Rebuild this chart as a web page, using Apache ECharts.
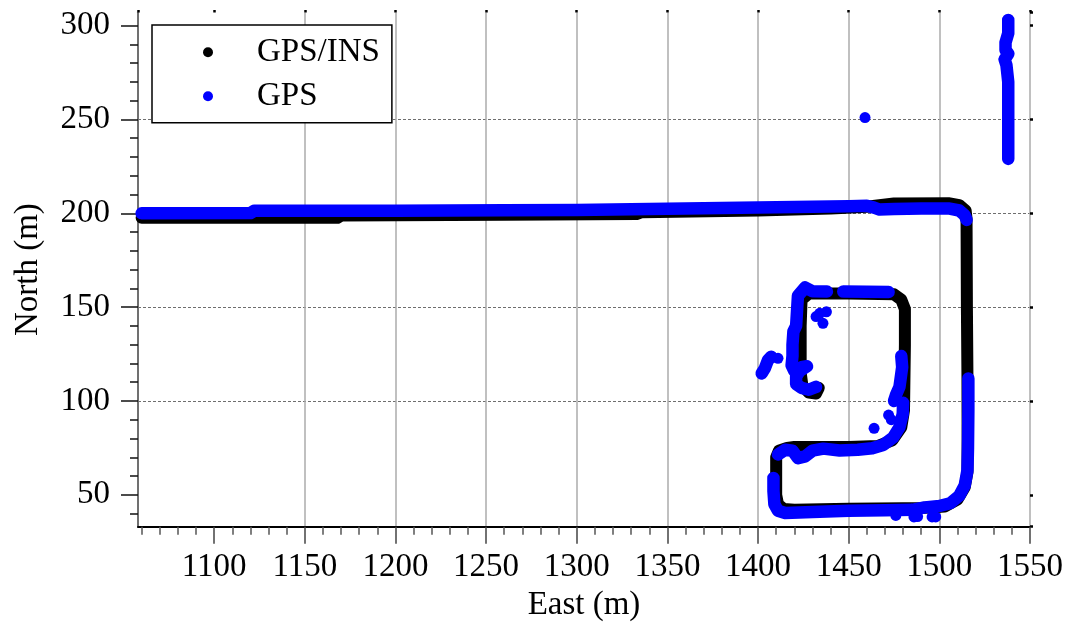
<!DOCTYPE html>
<html>
<head>
<meta charset="utf-8">
<script src="https://cdn.jsdelivr.net/npm/echarts@6/dist/echarts.min.js"></script>
<style>
  html, body { margin: 0; padding: 0; background: #fff; }
  #chart { width: 1072px; height: 629px; }
</style>
</head>
<body>
<div id="chart"></div>
<script>
// Series names
const insName = 'GPS/INS';
const gpsName = 'GPS';

// Tick labels (m)
const eastTicks = [1100, 1150, 1200, 1250, 1300, 1350, 1400, 1450, 1500, 1550];
const northTicks = [50, 100, 150, 200, 250, 300];

// Integrated GPS/INS trajectory, [east, north] in metres
const gpsInsTrack = [
  [1060, 197.6], [1120, 197.6], [1168, 197.6], [1170, 198.8], [1260, 199.2],
  [1333, 199.6], [1336, 200.6], [1400, 201.5], [1440, 202.5], [1460, 203.5],
  [1475, 205.2], [1505, 205.4], [1511, 204.4], [1514.5, 201.5], [1515, 197],
  [1515.2, 150], [1515.5, 113], [1515.6, 80], [1515.5, 62], [1514, 54],
  [1510, 47.5], [1503, 43.8], [1490, 43], [1480, 42.8], [1450, 42.5],
  [1420, 42], [1414, 42.5], [1411, 45], [1410, 50], [1410, 70],
  [1411.5, 73.5], [1416, 75], [1420, 75.5], [1450, 75.5], [1466, 76],
  [1474, 79], [1479, 86], [1480.5, 95], [1481, 130], [1481, 149],
  [1479, 154], [1475, 156.8], [1450, 157.2], [1428, 157.2], [1424, 154],
  [1423.5, 140], [1423.5, 115], [1424.5, 108], [1428, 104.5], [1432, 104],
  [1433.5, 107]
];

// GPS-only fixes, one array per continuous stretch
const gpsNorthRoad = [
  [1060, 200.0], [1120, 200.1], [1122, 201.3], [1200, 201.4], [1260, 201.6],
  [1300, 201.8], [1340, 202.3], [1380, 202.8], [1420, 203.3], [1450, 203.8],
  [1460, 204.0], [1464, 203.0], [1467, 202.0], [1475, 202.3], [1490, 202.6],
  [1505, 202.6], [1511, 201.5], [1514, 199], [1515, 196.5]
];
const gpsEastAndSouth = [
  [1516, 112], [1516, 95], [1515.8, 75], [1515.5, 63], [1514, 55],
  [1511, 49.5], [1506, 45.5], [1500, 44], [1492, 43.3], [1485, 42],
  [1470, 41.8], [1450, 41.5], [1430, 40.8], [1415, 40.3], [1411, 41.5],
  [1409, 45], [1408.5, 52], [1408.5, 59]
];
const gpsMiddleRow = [
  [1411, 71.5], [1415, 74], [1419, 73.5], [1422, 69.5], [1426, 70.5],
  [1430, 73.5], [1436, 74.6], [1445, 73.6], [1455, 74], [1463, 74.8],
  [1469, 76.5], [1474.5, 80.5], [1478, 86], [1479.8, 93], [1480, 99]
];
const gpsUpperWest = [
  [1438, 158.3], [1430, 158.5], [1426, 160.5], [1422, 156], [1421.5, 148],
  [1421, 140], [1419.5, 137], [1419, 130], [1419, 124], [1418.5, 119],
  [1420, 116], [1424, 118], [1427, 118.5], [1423, 116], [1421, 113],
  [1421, 109], [1424, 107], [1428, 106], [1432, 107.5]
];
const gpsUpperNorth = [
  [1447, 158.3], [1460, 158.2], [1472, 158]
];
const gpsUpperEast = [
  [1479, 124], [1479.5, 118], [1478.5, 111], [1478, 107.5], [1476, 103], [1475, 100]
];
const gpsWestSpur = [
  [1402, 114.7], [1403.7, 117.3], [1405.5, 121.8], [1407.3, 123.6]
];
const gpsNorthStrip = [
  [1538, 303], [1538, 296], [1536.5, 291], [1536.5, 287], [1538, 285],
  [1536, 282], [1537, 279], [1538, 270], [1538, 250], [1538, 240], [1538, 229]
];
const gpsIsolated = [
  [1459, 251], [1411, 122.7], [1432, 145], [1434, 146.7], [1437.7, 147.5],
  [1435.8, 141.4], [1472, 92.5], [1473.5, 90], [1464, 85.4],
  [1476, 39], [1486, 38.2], [1488, 38.4], [1496, 38.2], [1498, 38.2]
];

const serif = 'Liberation Serif';
const black = '#000000';
const blue = '#0000ff';
const plain = v => String(v);

function gpsLine(data) {
  return {
    name: gpsName, type: 'line', data: data,
    xAxisIndex: 0, yAxisIndex: 0,
    showSymbol: false, smooth: false, z: 4,
    itemStyle: { color: blue, opacity: 1 },
    lineStyle: { color: blue, width: 12.5, cap: 'round', join: 'round', opacity: 1 }
  };
}

const chart = echarts.init(document.getElementById('chart'), null, { renderer: 'canvas' });
chart.setOption({
  animation: false,
  backgroundColor: '#ffffff',
  grid: { left: 138, right: 42, top: 12.5, bottom: 102.3, containLabel: false },
  legend: {
    left: 152, top: 25,
    orient: 'vertical',
    data: [{ name: insName, icon: 'circle' }, { name: gpsName, icon: 'circle' }],
    itemWidth: 10, itemHeight: 10, itemGap: 11,
    padding: [10.7, 12, 10, 51],
    backgroundColor: '#ffffff',
    borderColor: '#000', borderWidth: 1.5, borderRadius: 0,
    textStyle: { fontFamily: serif, fontSize: 33, color: '#000', padding: [0, 0, 0, 39] },
    z: 10
  },
  xAxis: [{
    type: 'value', min: 1058, max: 1550, splitNumber: 10,
    name: 'East (m)', nameLocation: 'middle', nameGap: 60,
    nameTextStyle: { fontFamily: serif, fontSize: 33, color: '#000' },
    axisLine: { show: true, onZero: false, lineStyle: { color: '#000', width: 2 } },
    axisTick: { show: true, length: 17, customValues: eastTicks, lineStyle: { color: '#444', width: 1.5 } },
    minorTick: { show: true, splitNumber: 5, length: 8, lineStyle: { color: '#555', width: 1.5 } },
    axisLabel: { customValues: eastTicks, formatter: plain, margin: 24, fontFamily: serif, fontSize: 33, color: '#000' },
    splitLine: { show: true, showMinLine: false, lineStyle: { color: '#ababab', width: 1.5 } }
  }, {
    type: 'value', position: 'top', min: 1058, max: 1550, splitNumber: 10,
    axisLine: { show: false },
    axisTick: { show: true, length: 2.5, lineStyle: { color: '#000', width: 2.5 } },
    axisLabel: { show: false },
    splitLine: { show: false }
  }],
  yAxis: [{
    type: 'value', min: 33, max: 307, splitNumber: 5,
    name: 'North (m)', nameLocation: 'middle', nameGap: 93,
    nameTextStyle: { fontFamily: serif, fontSize: 33, color: '#000' },
    axisLine: { show: true, onZero: false, lineStyle: { color: '#707070', width: 2 } },
    axisTick: { show: true, length: 17, customValues: northTicks, lineStyle: { color: '#111', width: 1.5 } },
    minorTick: { show: true, splitNumber: 5, length: 8, lineStyle: { color: '#111', width: 1.5 } },
    axisLabel: { customValues: northTicks, formatter: plain, margin: 28, fontFamily: serif, fontSize: 33, color: '#000' },
    splitLine: { show: true, showMinLine: false, showMaxLine: false, lineStyle: { color: '#6e6e6e', width: 1, type: [3, 2] } }
  }, {
    type: 'value', position: 'right', min: 33, max: 307, splitNumber: 5,
    axisLine: { show: false },
    axisTick: { show: true, length: 3, lineStyle: { color: '#000', width: 2.5 } },
    axisLabel: { show: false },
    splitLine: { show: false }
  }],
  series: [
    {
      name: insName, type: 'line', data: gpsInsTrack,
      xAxisIndex: 0, yAxisIndex: 0,
      showSymbol: false, z: 3,
      itemStyle: { color: black },
      lineStyle: { color: black, width: 12, cap: 'round', join: 'round' }
    },
    gpsLine(gpsNorthRoad),
    gpsLine(gpsEastAndSouth),
    gpsLine(gpsMiddleRow),
    gpsLine(gpsUpperWest),
    gpsLine(gpsUpperNorth),
    gpsLine(gpsUpperEast),
    gpsLine(gpsWestSpur),
    gpsLine(gpsNorthStrip),
    {
      name: gpsName, type: 'scatter', data: gpsIsolated,
      xAxisIndex: 0, yAxisIndex: 0,
      symbol: 'circle', symbolSize: 11, z: 4,
      itemStyle: { color: blue, opacity: 1 }
    }
  ]
});
</script>
</body>
</html>
